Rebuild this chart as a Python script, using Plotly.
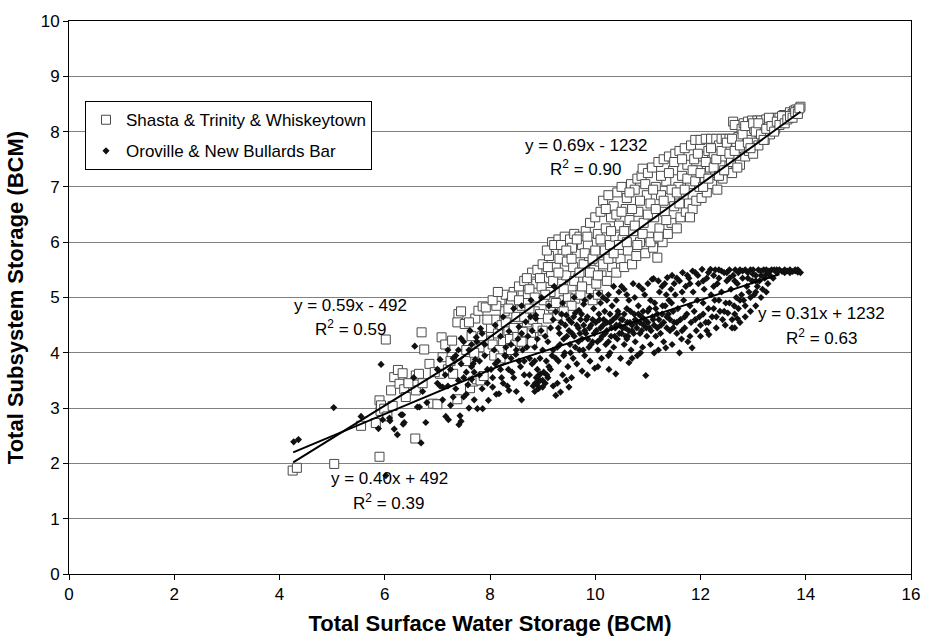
import plotly.graph_objects as go

# ---------------- data (BCM) ----------------
shasta_pts = [
    (4.25, 1.87), (4.33, 1.92), (5.04, 1.99), (5.90, 2.12), (6.58, 2.45), (5.55, 2.68),
    (5.83, 2.73), (5.92, 2.95), (5.90, 3.14), (5.93, 3.05), (5.99, 2.99), (6.05, 2.85),
    (6.15, 3.04), (6.12, 3.32), (6.18, 3.56), (6.25, 3.69), (6.34, 3.63), (6.28, 3.44),
    (6.37, 3.34), (6.02, 4.24), (6.59, 3.59), (6.59, 3.32), (6.65, 3.62), (6.70, 4.37),
    (6.75, 4.06), (6.85, 3.80), (6.72, 3.45), (6.92, 3.08), (7.00, 3.07), (7.05, 3.62),
    (7.10, 3.92), (7.08, 4.28), (7.15, 4.15), (7.20, 3.70), (7.28, 4.22), (7.40, 4.70),
    (7.38, 4.55), (7.45, 4.75), (7.52, 4.52), (7.38, 3.16), (7.45, 3.95), (7.55, 3.85),
    (7.62, 3.36), (7.68, 3.48), (7.72, 4.62), (7.78, 4.76), (7.75, 3.52), (7.82, 3.50),
    (7.86, 4.84), (7.92, 4.82), (7.95, 4.05), (7.88, 3.58), (7.98, 4.22), (8.02, 4.45),
    (7.65, 4.30), (7.30, 3.62), (7.55, 4.05), (7.80, 4.10), (7.25, 3.85), (6.95, 3.65),
    (6.45, 3.45), (6.40, 3.20),
    (8.05, 4.15), (8.10, 4.60), (8.15, 4.35), (8.20, 4.95), (8.25, 4.20), (8.28, 4.75),
    (8.12, 4.85), (8.30, 5.05), (8.18, 4.05), (8.22, 4.50),
    (8.35, 4.40), (8.40, 4.90), (8.45, 5.10), (8.38, 4.25), (8.50, 4.65), (8.55, 5.20),
    (8.48, 4.15), (8.58, 4.45), (8.42, 5.02), (8.60, 4.85), (8.52, 4.30),
    (8.65, 5.30), (8.70, 4.55), (8.72, 5.05), (8.78, 4.35), (8.80, 5.45), (8.85, 4.75),
    (8.68, 4.90), (8.88, 5.25), (8.75, 5.15), (8.82, 4.60), (8.90, 5.50), (8.62, 4.38),
    (8.95, 4.70), (9.00, 5.60), (9.02, 4.95), (9.05, 5.35), (9.10, 4.62), (9.12, 5.75),
    (9.15, 5.10), (9.18, 6.00), (9.20, 4.80), (8.98, 5.20), (9.08, 5.85), (9.16, 5.45),
    (9.25, 5.55), (9.28, 4.67), (9.30, 6.05), (9.35, 5.25), (9.38, 5.80), (9.40, 4.95),
    (9.42, 6.10), (9.45, 5.40), (9.48, 5.00), (9.32, 5.70), (9.22, 5.95), (9.46, 5.65),
    (9.52, 6.05), (9.55, 5.20), (9.58, 5.55), (9.60, 6.15), (9.62, 4.98), (9.65, 5.80),
    (9.68, 5.35), (9.70, 6.10), (9.72, 5.05), (9.75, 5.95), (9.78, 5.60), (9.56, 5.90),
    (9.82, 6.20), (9.85, 5.30), (9.88, 5.75), (9.90, 6.35), (9.92, 5.15), (9.95, 6.00),
    (9.98, 5.50), (10.00, 6.45), (10.02, 5.25), (10.05, 6.15), (10.08, 5.65), (9.86, 5.95),
    (10.10, 6.55), (10.12, 5.40), (10.15, 6.75), (10.18, 5.85), (10.20, 6.25), (10.22, 5.30),
    (10.25, 6.85), (10.28, 5.95), (10.30, 6.45), (10.32, 5.55), (10.35, 6.65), (10.38, 6.10),
    (10.40, 5.45), (10.42, 6.90), (10.45, 6.30), (10.48, 5.70), (10.50, 7.00), (10.52, 6.05),
    (10.55, 5.55), (10.58, 6.60), (10.60, 6.80), (10.62, 5.85), (10.65, 6.40), (10.68, 7.05),
    (10.70, 5.60), (10.72, 6.20), (10.75, 6.95), (10.78, 5.75), (10.80, 7.15), (10.82, 6.55),
    (10.85, 6.00), (10.88, 7.20), (10.90, 7.33), (10.92, 6.35), (10.95, 5.80), (10.98, 6.85),
    (11.00, 7.25), (11.02, 6.10), (11.05, 6.70), (11.08, 7.35), (11.10, 5.90), (11.12, 6.45),
    (11.15, 7.00), (11.18, 5.72), (11.20, 7.45), (11.22, 6.25), (11.25, 6.85), (11.28, 6.00),
    (11.30, 7.50), (11.32, 6.55), (11.35, 7.10), (11.38, 6.15), (11.40, 7.55), (11.42, 6.80),
    (11.45, 6.35), (11.48, 7.30), (11.50, 6.65), (11.52, 7.60), (11.55, 6.25), (11.58, 7.00),
    (11.60, 7.65), (11.62, 6.45), (11.65, 7.20), (11.68, 6.85), (11.70, 7.70), (11.72, 6.55),
    (11.75, 7.40), (11.78, 6.70), (11.80, 7.05), (11.82, 7.75), (11.85, 6.60), (11.88, 7.50),
    (11.90, 7.85), (11.92, 6.75), (11.95, 7.30), (11.98, 7.00), (12.00, 7.85), (12.02, 6.80),
    (12.05, 7.55), (12.08, 7.15), (12.10, 7.87), (12.12, 6.90), (12.15, 7.65), (12.18, 7.35),
    (12.20, 7.87), (12.22, 7.05), (12.25, 7.60), (12.28, 7.25), (12.30, 7.87), (12.32, 6.95),
    (12.35, 7.75), (12.38, 7.40), (12.40, 7.87), (12.42, 7.15), (12.45, 7.55), (12.48, 7.87),
    (12.50, 7.30), (12.52, 7.70), (12.55, 7.87), (12.58, 7.45), (12.60, 7.25), (12.62, 8.18),
    (12.65, 8.12), (12.68, 7.80), (12.70, 7.55), (12.72, 7.90), (12.75, 7.40), (12.78, 8.05),
    (12.80, 7.70), (12.82, 8.15), (12.85, 7.55), (12.88, 7.95), (12.90, 8.18), (12.92, 7.65),
    (12.95, 7.85), (12.98, 8.20), (13.00, 7.60), (13.02, 8.05), (13.05, 7.80), (13.08, 8.20),
    (13.10, 7.75), (13.12, 8.00), (13.15, 8.20), (13.18, 7.90), (13.20, 8.10), (13.22, 7.85),
    (13.25, 8.22), (13.28, 8.00), (13.30, 8.15), (13.32, 7.95), (13.35, 8.22), (13.38, 8.08),
    (13.40, 8.20), (13.42, 8.05), (13.45, 8.25), (13.48, 8.12), (13.50, 8.25), (13.55, 8.18),
    (13.58, 8.30), (13.60, 8.22), (13.65, 8.30), (13.68, 8.25), (13.70, 8.35), (13.75, 8.32),
    (13.78, 8.38), (13.82, 8.40), (13.85, 8.38), (13.90, 8.45),
    # second pass over the dense band
    (7.60, 4.55), (7.70, 4.00), (7.85, 4.30), (7.95, 4.60), (8.05, 4.95), (8.08, 3.95),
    (8.15, 5.10), (8.20, 3.90), (8.30, 4.55), (8.35, 4.80), (8.40, 4.05), (8.45, 4.45),
    (8.55, 4.95), (8.60, 4.20), (8.65, 4.65), (8.70, 5.35), (8.75, 4.80), (8.80, 4.20),
    (8.85, 5.00), (8.90, 4.45), (8.95, 5.35), (9.00, 4.40), (9.05, 5.05), (9.10, 5.55),
    (9.15, 4.85), (9.20, 5.30), (9.25, 4.90), (9.30, 5.45), (9.35, 5.95), (9.40, 5.15),
    (9.45, 5.85), (9.50, 4.85), (9.55, 5.70), (9.60, 5.30), (9.65, 6.05), (9.70, 5.45),
    (9.75, 5.20), (9.80, 5.80), (9.85, 6.10), (9.90, 5.45), (9.95, 5.70), (10.00, 5.85),
    (10.05, 5.40), (10.10, 6.05), (10.15, 5.60), (10.20, 6.60), (10.25, 5.70), (10.30, 6.20),
    (10.35, 5.80), (10.40, 6.50), (10.45, 5.95), (10.50, 6.55), (10.55, 6.20), (10.60, 6.00),
    (10.65, 6.90), (10.70, 6.60), (10.75, 6.30), (10.80, 5.95), (10.85, 6.75), (10.90, 6.15),
    (10.95, 7.05), (11.00, 6.50), (11.05, 6.00), (11.10, 6.95), (11.15, 6.60), (11.20, 6.10),
    (11.25, 7.20), (11.30, 6.75), (11.35, 6.40), (11.40, 7.25), (11.45, 6.95), (11.50, 7.45),
    (11.55, 6.90), (11.60, 6.70), (11.65, 7.50), (11.70, 6.95), (11.75, 7.15), (11.80, 6.45),
    (11.85, 7.30), (11.90, 7.10), (11.95, 7.60), (12.00, 7.25), (12.05, 7.00), (12.10, 7.45),
    (12.15, 7.15), (12.20, 7.70), (12.25, 7.35), (12.30, 7.50), (12.35, 7.20), (12.40, 7.65),
    (12.45, 7.30), (12.50, 7.80), (12.55, 7.60), (12.60, 7.87), (12.65, 7.65), (12.70, 7.35),
    (12.75, 7.75), (12.80, 7.95), (12.85, 8.10), (12.90, 7.80), (12.95, 7.70), (13.00, 8.15),
    (13.05, 8.00), (13.10, 8.15), (13.15, 7.95), (13.20, 7.85), (13.25, 8.05), (13.30, 8.25),
    (13.35, 8.10), (13.40, 8.00), (13.45, 8.18), (13.50, 8.12), (13.55, 8.28), (13.60, 8.15),
    (13.65, 8.22), (13.70, 8.28), (13.75, 8.25), (13.80, 8.35), (13.85, 8.32), (13.88, 8.42),
    (9.95, 4.95), (10.05, 5.05), (9.55, 4.85), (9.40, 4.75),
]

oroville_pts = [
    (4.27, 2.39), (4.36, 2.43), (5.03, 3.01), (5.55, 2.85), (5.93, 3.79), (6.57, 4.12),
    (6.02, 1.78), (6.18, 2.62), (6.24, 2.52), (6.35, 2.71), (6.31, 2.88), (6.09, 2.82),
    (5.96, 2.79), (6.62, 3.02), (6.66, 3.02), (6.34, 2.88), (6.37, 2.74), (6.78, 2.74),
    (6.69, 2.37), (6.72, 3.30), (6.55, 3.55), (6.80, 3.10), (5.88, 2.63), (6.10, 2.77),
    (7.00, 3.45), (7.05, 3.40), (7.10, 3.38), (7.05, 3.88), (7.16, 2.85), (7.21, 2.79),
    (7.43, 2.86), (7.45, 2.76), (7.41, 2.70), (7.45, 4.26), (7.15, 3.60), (7.25, 3.70),
    (7.30, 3.20), (7.35, 3.95), (7.50, 3.55), (7.55, 3.25), (7.60, 4.05), (7.65, 3.75),
    (7.70, 3.15), (7.76, 2.99), (7.86, 2.99), (7.80, 3.60), (7.85, 4.35), (7.90, 3.95),
    (7.97, 3.14), (7.95, 3.45), (7.20, 4.05), (7.40, 3.50), (7.62, 4.40), (7.75, 4.20),
    (7.74, 4.28), (7.82, 4.44), (7.68, 3.80), (7.72, 3.88), (7.58, 3.42), (7.65, 3.52),
    (7.10, 3.15), (7.20, 3.40), (7.30, 3.90), (7.35, 3.35), (7.45, 3.80), (7.50, 3.20),
    (7.55, 3.65), (7.60, 3.00), (7.65, 4.15), (7.70, 3.65), (7.80, 3.85), (7.85, 3.35),
    (7.90, 4.15), (7.95, 3.70), (7.00, 3.70), (7.25, 3.05), (7.40, 4.05), (7.50, 4.20),
    (8.02, 3.70), (8.05, 3.38), (8.08, 4.05), (8.10, 4.50), (8.12, 3.25), (8.15, 3.85),
    (8.17, 3.26), (8.20, 4.30), (8.22, 3.55), (8.25, 4.65), (8.28, 3.95), (8.30, 3.94),
    (8.33, 3.40), (8.36, 4.39), (8.36, 3.32), (8.40, 4.15), (8.42, 3.65), (8.45, 4.80),
    (8.49, 3.97), (8.50, 3.30), (8.53, 4.25), (8.55, 4.47), (8.58, 3.75), (8.60, 3.15),
    (8.62, 4.05), (8.65, 3.85), (8.68, 4.56), (8.70, 3.45), (8.72, 4.30), (8.75, 3.60),
    (8.77, 4.65), (8.80, 3.80), (8.82, 3.40), (8.85, 4.10), (8.87, 4.68), (8.88, 3.55),
    (8.90, 3.70), (8.92, 3.35), (8.95, 3.90), (8.97, 4.40), (9.00, 3.50), (9.02, 3.65),
    (9.05, 3.45), (9.07, 3.85), (8.93, 3.60), (8.85, 3.30), (8.78, 4.95), (8.98, 5.00),
    (8.60, 4.85), (8.87, 4.62), (8.90, 3.41),
    (8.05, 3.55), (8.10, 3.80), (8.20, 3.70), (8.25, 3.45), (8.30, 4.10), (8.35, 3.70),
    (8.40, 3.90), (8.45, 3.55), (8.50, 4.05), (8.55, 3.85), (8.60, 4.35), (8.65, 3.60),
    (8.70, 4.10), (8.75, 3.90), (8.80, 4.40), (8.85, 3.85), (8.90, 4.25), (8.95, 3.50),
    (9.00, 4.05), (9.05, 4.30), (9.10, 3.55), (9.15, 3.70), (9.20, 3.40), (9.20, 4.05),
    (9.25, 3.90), (8.92, 3.48), (8.96, 3.62), (9.00, 3.38), (8.86, 3.45), (9.08, 3.60),
    (9.10, 4.20), (9.12, 3.75), (9.15, 4.45), (9.18, 3.95), (9.20, 4.60), (9.22, 5.20),
    (9.25, 3.23), (9.25, 4.74), (9.28, 4.10), (9.30, 3.85), (9.32, 4.35), (9.34, 3.29),
    (9.35, 4.55), (9.38, 3.60), (9.40, 4.25), (9.42, 4.00), (9.45, 4.68), (9.48, 3.75),
    (9.50, 3.38), (9.50, 4.40), (9.12, 4.85), (9.38, 4.90), (9.28, 3.45), (9.45, 3.50),
    (9.52, 4.15), (9.55, 4.55), (9.58, 3.90), (9.60, 4.30), (9.62, 4.72), (9.65, 3.80),
    (9.68, 4.45), (9.69, 4.77), (9.70, 4.05), (9.72, 4.60), (9.75, 3.67), (9.75, 4.25),
    (9.78, 4.50), (9.80, 3.95), (9.82, 4.35), (9.85, 4.65), (9.88, 4.10), (9.90, 3.85),
    (9.92, 4.50), (9.95, 4.20), (9.97, 4.80), (9.99, 3.72), (9.60, 5.00), (9.80, 4.95),
    (9.55, 3.55), (9.85, 3.60), (9.78, 4.88), (9.90, 5.02),
    (9.30, 4.45), (9.33, 4.15), (9.36, 4.70), (9.40, 3.95), (9.43, 4.50), (9.46, 4.30),
    (9.50, 4.60), (9.53, 4.00), (9.56, 4.35), (9.59, 4.65), (9.62, 4.10), (9.65, 4.50),
    (9.68, 4.20), (9.71, 4.35), (9.74, 4.70), (9.77, 4.05), (9.80, 4.40), (9.83, 4.60),
    (9.86, 4.25), (9.89, 4.45), (9.92, 4.15), (9.95, 4.60), (9.98, 4.35), (10.01, 4.55),
    (10.04, 4.20), (10.07, 4.70), (10.10, 4.45), (10.13, 4.30), (10.16, 4.60), (10.19, 4.35),
    (10.22, 4.55), (10.25, 4.20), (10.28, 4.70), (10.31, 4.45), (10.34, 4.60), (10.37, 4.30),
    (10.40, 4.50), (10.43, 4.75), (10.46, 4.35), (10.49, 4.60), (10.52, 4.45), (10.55, 4.70),
    (10.58, 4.30), (10.61, 4.55), (10.64, 4.40), (10.67, 4.75), (10.70, 4.50), (10.73, 4.35),
    (10.76, 4.60), (10.79, 4.45), (10.82, 4.70), (10.85, 4.55), (10.88, 4.40), (10.91, 4.75),
    (10.94, 4.60), (10.97, 4.45), (11.00, 4.55), (11.03, 4.80), (11.06, 4.40), (11.09, 4.65),
    (11.12, 4.50), (11.15, 4.80), (11.18, 4.45), (11.21, 4.60), (11.24, 4.35), (11.27, 4.70),
    (11.30, 4.55), (11.33, 4.85), (11.36, 4.45), (11.39, 4.70), (11.42, 4.60), (11.45, 4.90),
    (11.48, 4.45),
    (10.02, 4.40), (10.05, 4.05), (10.07, 5.07), (10.08, 4.60), (10.10, 4.25), (10.12, 3.90),
    (10.15, 4.50), (10.18, 4.75), (10.20, 4.15), (10.22, 4.40), (10.25, 3.95), (10.26, 3.70),
    (10.28, 4.55), (10.30, 4.30), (10.32, 4.85), (10.35, 4.10), (10.38, 4.45), (10.39, 3.62),
    (10.40, 4.65), (10.42, 4.25), (10.45, 5.10), (10.46, 4.50), (10.48, 3.90), (10.50, 4.35),
    (10.15, 5.00), (10.35, 5.20), (10.22, 4.95), (10.05, 3.75), (10.28, 4.00), (10.44, 4.70),
    (10.52, 4.60), (10.55, 4.15), (10.57, 4.45), (10.60, 4.80), (10.62, 4.30), (10.64, 3.82),
    (10.64, 4.95), (10.66, 4.55), (10.68, 4.05), (10.70, 4.40), (10.72, 5.25), (10.74, 4.70),
    (10.76, 4.20), (10.78, 4.55), (10.80, 3.95), (10.82, 4.85), (10.83, 5.21), (10.85, 4.35),
    (10.88, 4.65), (10.90, 4.10), (10.92, 4.50), (10.94, 5.05), (10.96, 3.59), (10.98, 4.30),
    (10.55, 5.15), (10.70, 3.90), (10.86, 4.00), (10.60, 4.25),
    (11.00, 4.75), (11.03, 4.45), (11.05, 4.15), (11.08, 5.33), (11.10, 4.60), (11.11, 5.34),
    (11.13, 4.90), (11.15, 4.30), (11.18, 4.70), (11.20, 4.05), (11.22, 5.10), (11.25, 4.50),
    (11.28, 4.85), (11.30, 4.20), (11.32, 5.25), (11.34, 4.09), (11.36, 4.65), (11.37, 5.36),
    (11.40, 4.95), (11.42, 4.40), (11.44, 5.15), (11.46, 4.15), (11.46, 5.40), (11.48, 4.75),
    (11.50, 4.55), (11.12, 4.00), (11.27, 5.20),
    (10.10, 4.90), (10.25, 5.05), (10.40, 4.95), (10.50, 5.20), (10.60, 5.05), (10.75, 5.00),
    (10.90, 5.15), (11.00, 5.25), (11.05, 4.95), (11.20, 5.30), (11.35, 5.05), (11.50, 5.25),
    (11.55, 5.35), (11.65, 5.10), (11.75, 5.40), (11.80, 5.25), (11.95, 5.40), (12.05, 5.30),
    (12.15, 5.45), (12.25, 5.20), (12.35, 5.35), (12.40, 5.48), (12.50, 5.45), (12.55, 5.35),
    (12.65, 5.30), (12.72, 5.45), (12.80, 5.48), (12.90, 5.35), (13.00, 5.42), (13.05, 5.30),
    (13.15, 5.40), (13.25, 5.42), (13.45, 5.50), (13.60, 5.45), (13.70, 5.45), (13.80, 5.50),
    (13.85, 5.50),
    (11.52, 5.05), (11.55, 4.35), (11.57, 4.80), (11.60, 5.30), (11.62, 4.60), (11.64, 4.25),
    (11.66, 5.45), (11.68, 4.95), (11.70, 4.45), (11.72, 5.20), (11.74, 4.70), (11.76, 4.20),
    (11.78, 5.35), (11.80, 4.85), (11.82, 4.55), (11.84, 4.09), (11.86, 5.10), (11.88, 4.75),
    (11.90, 5.45), (11.92, 4.40), (11.94, 4.95), (11.96, 5.25), (11.98, 4.65), (11.60, 4.00),
    (11.85, 5.48),
    (11.55, 4.55), (11.65, 4.40), (11.70, 4.65), (11.80, 4.30), (11.90, 4.60), (12.00, 4.50),
    (12.05, 4.70), (12.15, 4.55), (12.25, 4.80), (12.30, 4.65), (12.35, 4.95), (12.45, 4.75),
    (12.55, 4.90), (12.65, 4.70), (12.75, 4.95), (12.85, 4.85), (12.95, 5.00), (13.05, 5.10),
    (12.00, 4.30), (12.03, 5.51), (12.05, 4.90), (12.07, 5.15), (12.10, 4.55), (12.12, 5.35),
    (12.15, 4.80), (12.16, 4.33), (12.19, 5.51), (12.20, 5.05), (12.22, 4.65), (12.25, 5.40),
    (12.27, 4.95), (12.30, 4.45), (12.32, 5.25), (12.35, 5.50), (12.37, 4.75), (12.40, 5.10),
    (12.42, 4.60), (12.45, 5.45), (12.47, 4.50), (12.48, 4.90), (12.28, 5.50), (12.12, 4.40),
    (12.50, 5.30), (12.52, 4.72), (12.55, 5.50), (12.58, 5.15), (12.60, 4.60), (12.62, 5.40),
    (12.64, 4.85), (12.66, 5.50), (12.68, 5.00), (12.70, 5.25), (12.72, 4.80), (12.75, 5.50),
    (12.78, 5.05), (12.80, 5.35), (12.82, 4.95), (12.85, 5.50), (12.88, 5.20), (12.90, 5.45),
    (12.92, 5.10), (12.95, 5.50), (12.98, 5.30), (12.60, 4.45), (12.70, 4.62),
    (13.15, 5.00), (13.05, 4.85), (12.95, 4.75), (12.85, 4.65), (12.75, 4.55), (12.65, 4.45),
    (13.25, 5.10),
    (13.00, 5.50), (13.02, 5.05), (13.05, 5.40), (13.08, 5.20), (13.10, 5.50), (13.12, 5.30),
    (13.15, 5.48), (13.18, 5.15), (13.20, 5.50), (13.22, 5.35), (13.25, 5.50), (13.28, 5.25),
    (13.30, 5.48), (13.32, 5.40), (13.35, 5.50), (13.38, 5.35), (13.40, 5.50), (13.45, 5.45),
    (13.50, 5.50), (13.55, 5.47), (13.60, 5.50), (13.65, 5.48), (13.70, 5.50), (13.75, 5.47),
    (13.80, 5.48), (13.85, 5.46), (13.90, 5.45),
]

# trendline end points
shasta_trend_low_x = [4.26, 7.5]
shasta_trend_low_y = [2.02, 3.93]
shasta_trend_high_x = [7.3, 13.9]
shasta_trend_high_y = [3.80, 8.36]
oroville_trend_low_x = [4.26, 8.3]
oroville_trend_low_y = [2.20, 3.81]
oroville_trend_high_x = [8.1, 13.5]
oroville_trend_high_y = [3.74, 5.42]

series_names = ["Shasta & Trinity & Whiskeytown", "Oroville & New Bullards Bar"]

# equation labels: (text, x, y)
equation_labels = [
    ("y = 0.69x - 1232", 9.82, 7.75),
    ("R<sup>2</sup> = 0.90", 9.82, 7.34),
    ("y = 0.59x - 492", 5.35, 4.85),
    ("R<sup>2</sup> = 0.59", 5.34, 4.44),
    ("y = 0.40x + 492", 6.09, 1.73),
    ("R<sup>2</sup> = 0.39", 6.08, 1.31),
    ("y = 0.31x + 1232", 14.30, 4.71),
    ("R<sup>2</sup> = 0.63", 14.30, 4.29),
]

FONT = "Arial, 'Liberation Sans', sans-serif"

fig = go.Figure()

fig.add_trace(go.Scatter(
    x=[p[0] for p in shasta_pts], y=[p[1] for p in shasta_pts],
    mode="markers", name=series_names[0], legendgroup="a",
    marker=dict(symbol="square", size=9, color="white",
                line=dict(color="#4a4a4a", width=1)),
))
fig.add_trace(go.Scatter(
    x=[p[0] for p in oroville_pts], y=[p[1] for p in oroville_pts],
    mode="markers", name=series_names[1], legendgroup="b",
    marker=dict(symbol="diamond", size=5.5, color="#111111", line=dict(width=0)),
))

for tx, ty in [(shasta_trend_low_x, shasta_trend_low_y),
               (shasta_trend_high_x, shasta_trend_high_y),
               (oroville_trend_low_x, oroville_trend_low_y),
               (oroville_trend_high_x, oroville_trend_high_y)]:
    fig.add_trace(go.Scatter(x=tx, y=ty, mode="lines", showlegend=False,
                             line=dict(color="black", width=2)))

for text, ax, ay in equation_labels:
    fig.add_annotation(x=ax, y=ay, xref="x", yref="y", text=text, showarrow=False,
                       font=dict(family=FONT, size=17, color="black"),
                       xanchor="center", yanchor="middle")

fig.update_layout(
    width=932, height=644,
    margin=dict(l=69, r=19, t=14, b=67),
    paper_bgcolor="white", plot_bgcolor="white",
    font=dict(family=FONT, size=17, color="black"),
    legend=dict(x=0.019, y=0.855, xanchor="left", yanchor="top",
                bgcolor="white", bordercolor="black", borderwidth=1,
                font=dict(family=FONT, size=17, color="black"),
                traceorder="grouped", tracegroupgap=6),
    xaxis=dict(range=[0, 16], dtick=2, tick0=0, showgrid=False, zeroline=False,
               showline=True, linecolor="black", linewidth=1, mirror=True,
               ticks="outside", ticklen=5, tickcolor="black",
               tickfont=dict(family=FONT, size=17, color="black"),
               title=dict(text="Total Surface Water Storage (BCM)", standoff=12,
                          font=dict(family=FONT, size=22, color="black", weight="bold"))),
    yaxis=dict(range=[0, 10], dtick=1, tick0=0, showgrid=True, gridcolor="#808080",
               gridwidth=1, zeroline=False,
               showline=True, linecolor="black", linewidth=1, mirror=True,
               ticks="outside", ticklen=5, tickcolor="black",
               tickfont=dict(family=FONT, size=17, color="black"),
               title=dict(text="Total Subsystem Storage (BCM)", standoff=10,
                          font=dict(family=FONT, size=22, color="black", weight="bold"))),
)

fig.write_html(
    "out.html",
    config={"displayModeBar": False},
    post_script="document.body.style.margin='0';document.body.style.overflow='hidden';",
)
